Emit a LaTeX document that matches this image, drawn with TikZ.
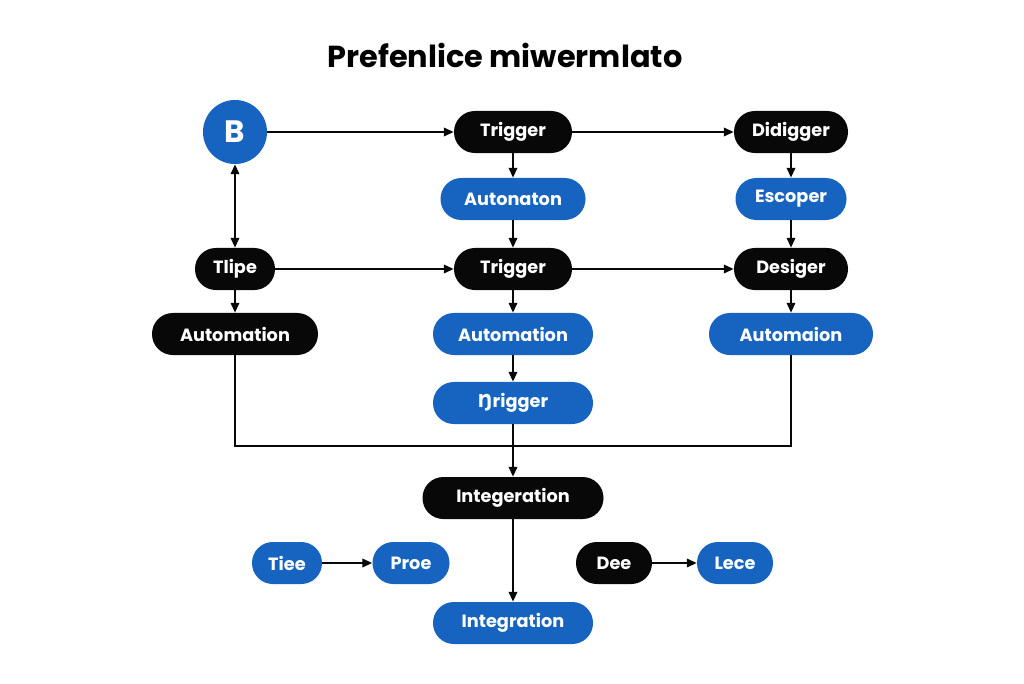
\documentclass[tikz,border=0pt]{standalone}
\usepackage{fontspec}
\setmainfont{Poppins}
\newfontfamily\extfont{DejaVu Sans}
\usepackage{tikz}
\usetikzlibrary{arrows.meta}

\definecolor{flowblue}{RGB}{22,100,192}
\definecolor{flowdark}{RGB}{8,8,8}

\begin{document}
\begin{tikzpicture}[x=0.025cm,y=-0.025cm]
\tikzset{
  bw/.style={minimum width=#1*0.025cm},
  box/.style={rounded corners=0.52cm,minimum height=1.05cm,inner sep=0pt,
    text=white,font=\bfseries\fontsize{12.6}{14}\selectfont},
  darkbox/.style={box,fill=flowdark},
  bluebox/.style={box,fill=flowblue},
  wire/.style={draw=flowdark,line width=1.4pt},
  flow/.style={wire,-{Triangle[length=7pt,width=6pt]}}
}
\useasboundingbox (0,0) rectangle (1024,683);

\node[font=\bfseries\fontsize{21.6}{24}\selectfont] (title) at (505,55) {Prefenlice miwermlato};

\node[circle,fill=flowblue,minimum size=1.6cm,inner sep=0pt,text=white,
  font=\bfseries\fontsize{22}{24}\selectfont] (b) at (235,132) {B};
\node[darkbox,bw=118] (trig1) at (513,132) {Trigger};
\node[darkbox,bw=114] (didig) at (791,132) {Didigger};
\node[bluebox,bw=145] (autonat) at (513,199) {Autonaton};
\node[bluebox,bw=111] (escop) at (791,199) {Escoper};

\node[darkbox,bw=80] (tlipe) at (235,269) {Tlipe};
\node[darkbox,bw=118] (trig2) at (513,269) {Trigger};
\node[darkbox,bw=114] (desig) at (791,269) {Desiger};
\node[darkbox,bw=166] (autoL) at (235,334) {Automation};
\node[bluebox,bw=160] (autoM) at (513,334) {Automation};
\node[bluebox,bw=164] (autoR) at (791,334) {Automaion};
\node[bluebox,bw=160] (trig3) at (513,403) {{\extfont Ŋ}rigger};

\node[darkbox,bw=181] (integ1) at (513,498) {Integeration};
\node[bluebox,bw=160] (integ2) at (513,623) {Integration};
\node[bluebox,bw=70] (tiee) at (287,563) {Tiee};
\node[bluebox,bw=77] (proe) at (411,563) {Proe};
\node[darkbox,bw=76] (dee) at (614,563) {Dee};
\node[bluebox,bw=76] (lece) at (735,563) {Lece};

\coordinate (merge) at (513,446);

\draw[flow] (b) -- (trig1);
\draw[flow] (trig1) -- (didig);
\draw[flow] (trig1) -- (autonat);
\draw[flow] (autonat) -- (trig2);
\draw[flow] (didig) -- (escop);
\draw[flow] (escop) -- (desig);
\draw[flow,{Triangle[length=7pt,width=6pt]}-{Triangle[length=7pt,width=6pt]}] (tlipe) -- (b);
\draw[flow] (tlipe) -- (trig2);
\draw[flow] (tlipe) -- (autoL);
\draw[flow] (trig2) -- (desig);
\draw[flow] (trig2) -- (autoM);
\draw[flow] (desig) -- (autoR);
\draw[flow] (autoM) -- (trig3);
\draw[wire] (autoL.south) |- (merge) -| (autoR.south);
\draw[flow] (trig3) -- (integ1);
\draw[flow] (integ1) -- (integ2);
\draw[flow] (tiee) -- (proe);
\draw[flow] (dee) -- (lece);
\end{tikzpicture}
\end{document}
